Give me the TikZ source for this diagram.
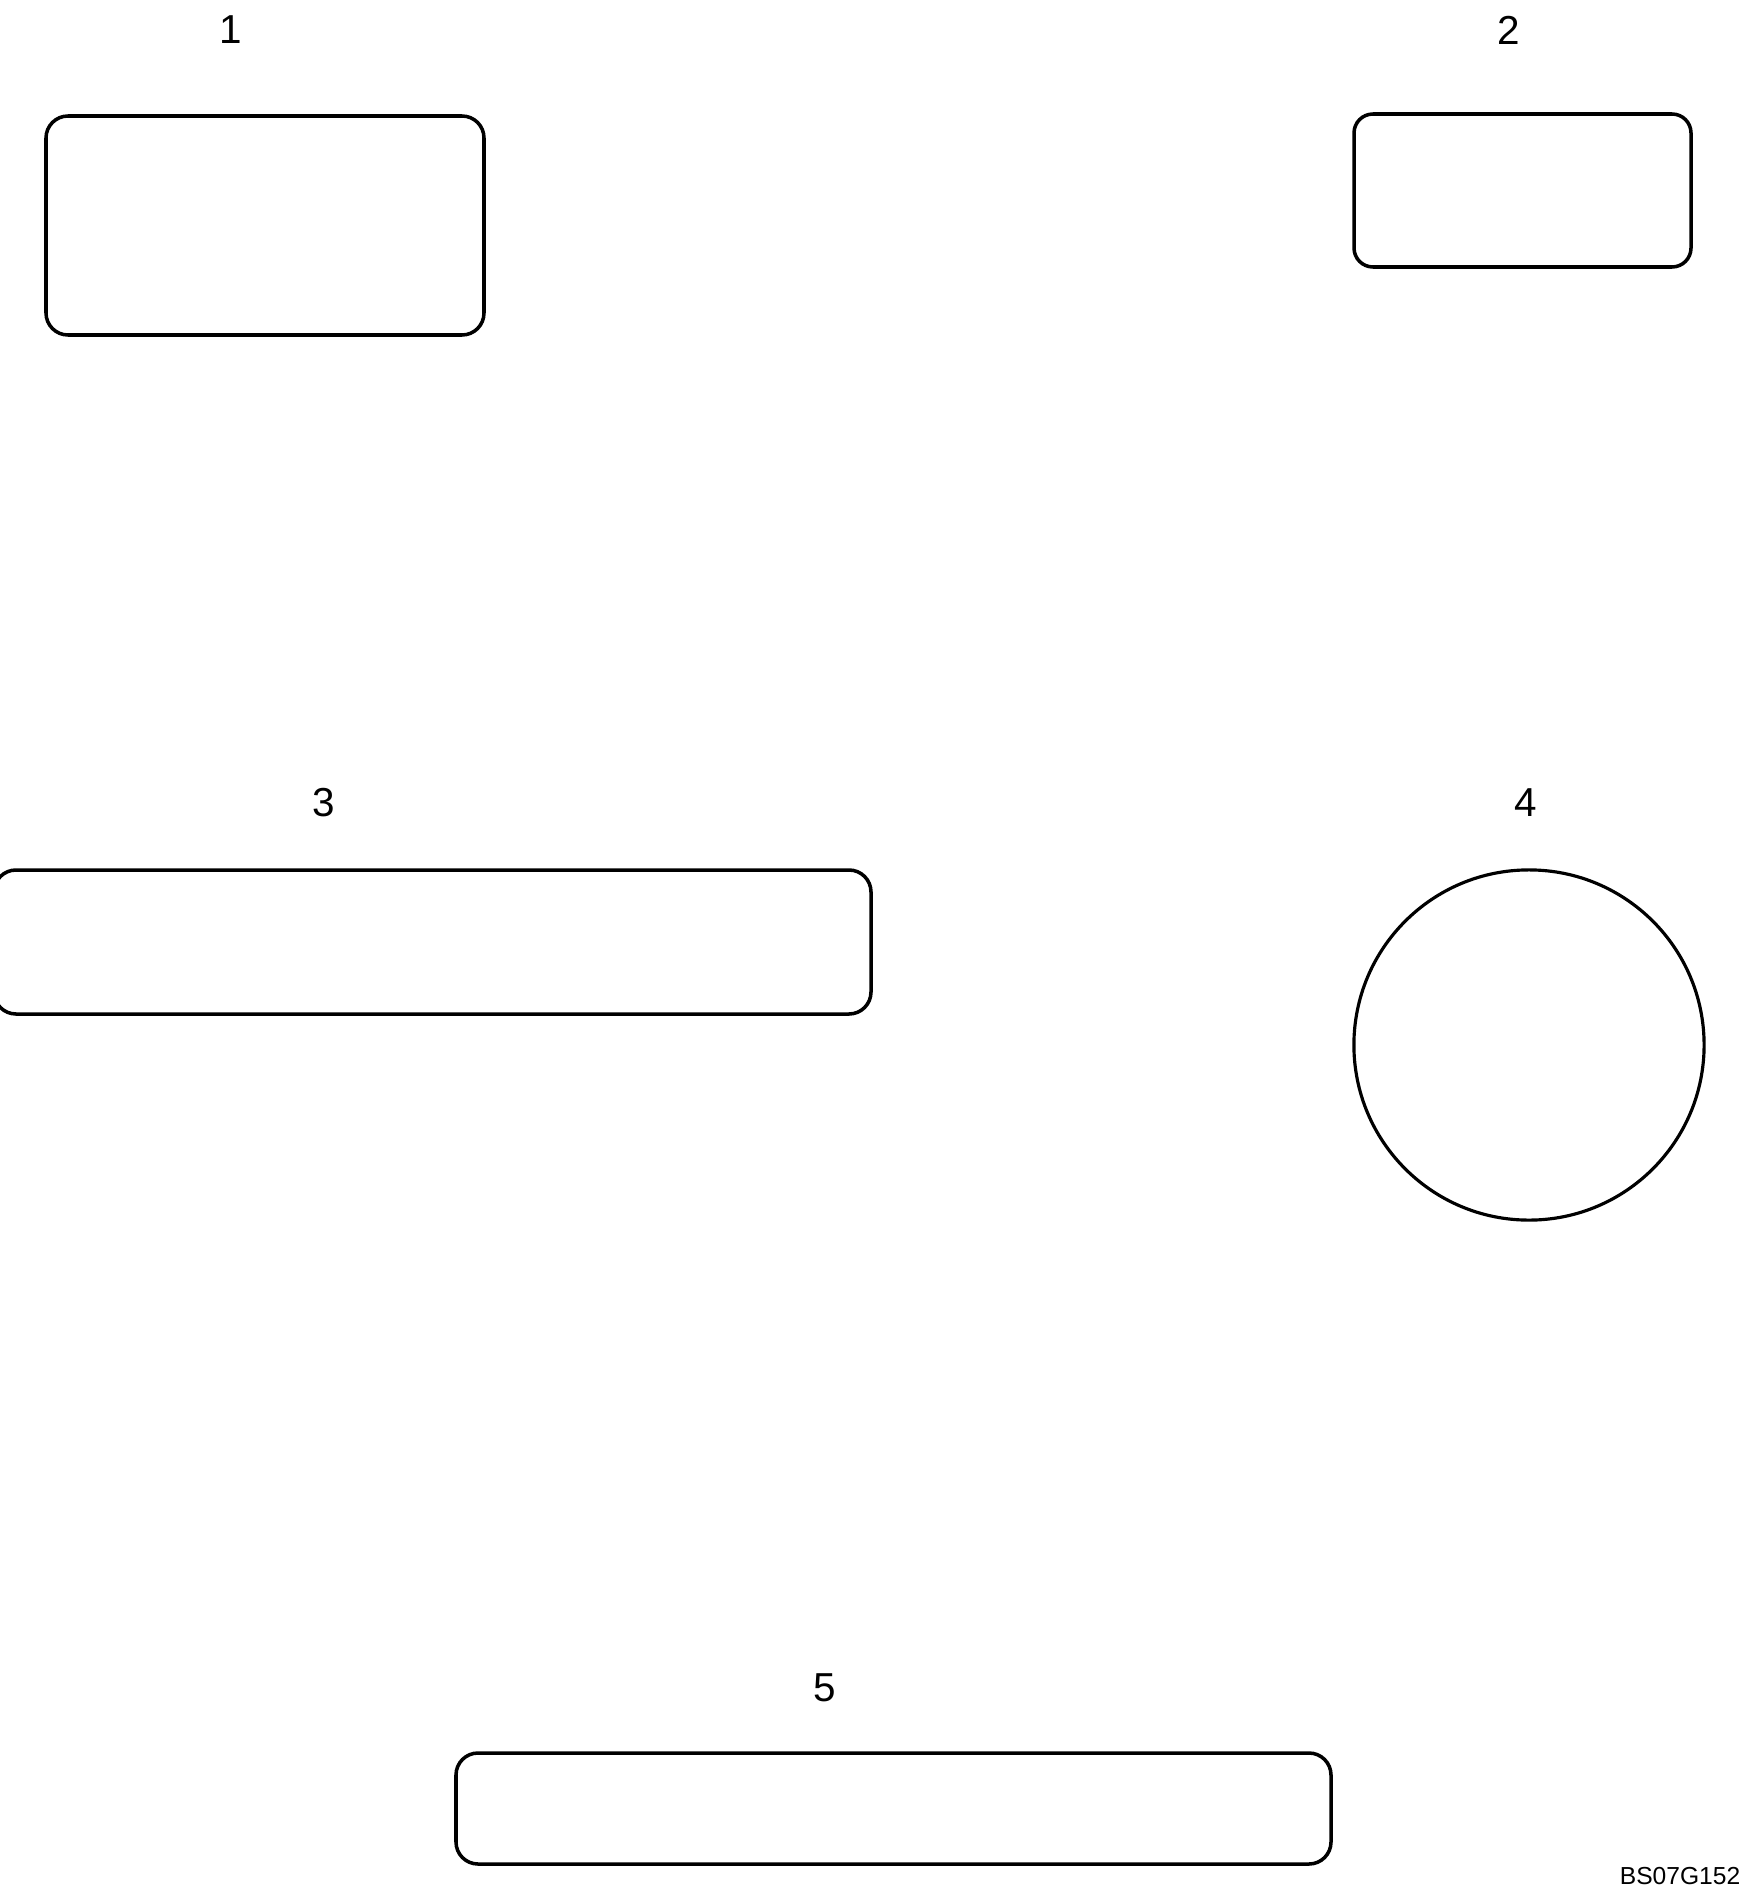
\documentclass[tikz,border=0pt]{standalone}
\usepackage{fontspec}
\setmainfont{Liberation Sans}

\begin{document}
\begin{tikzpicture}[x=0.01cm, y=-0.01cm]
	\tikzset{part/.style={line width=1pt, rounded corners=0.22cm},
		num/.style={font=\fontsize{11.5}{12}\selectfont, inner sep=0pt}}
	\useasboundingbox (0,0) rectangle (1747,1900);
	\draw[part] (46,116) rectangle (484,335);
	\draw[part, rounded corners=0.19cm] (1354,114) rectangle (1691,267);
	\draw[part] (-6,870) rectangle (871,1014);
	\draw[line width=0.9pt] (1529,1045) circle (1.75cm);
	\draw[part] (456,1753) rectangle (1331,1864);
	\node[num] (n1) at (231,30) {1};
	\node[num] (n2) at (1509,30) {2};
	\node[num] (n3) at (324,803) {3};
	\node[num] (n4) at (1526,803) {4};
	\node[num] (n5) at (825,1688) {5};
	\node[font=\fontsize{7}{8}\selectfont, inner sep=0pt, anchor=east] (code) at (1741,1876) {BS07G152};
\end{tikzpicture}
\end{document}
